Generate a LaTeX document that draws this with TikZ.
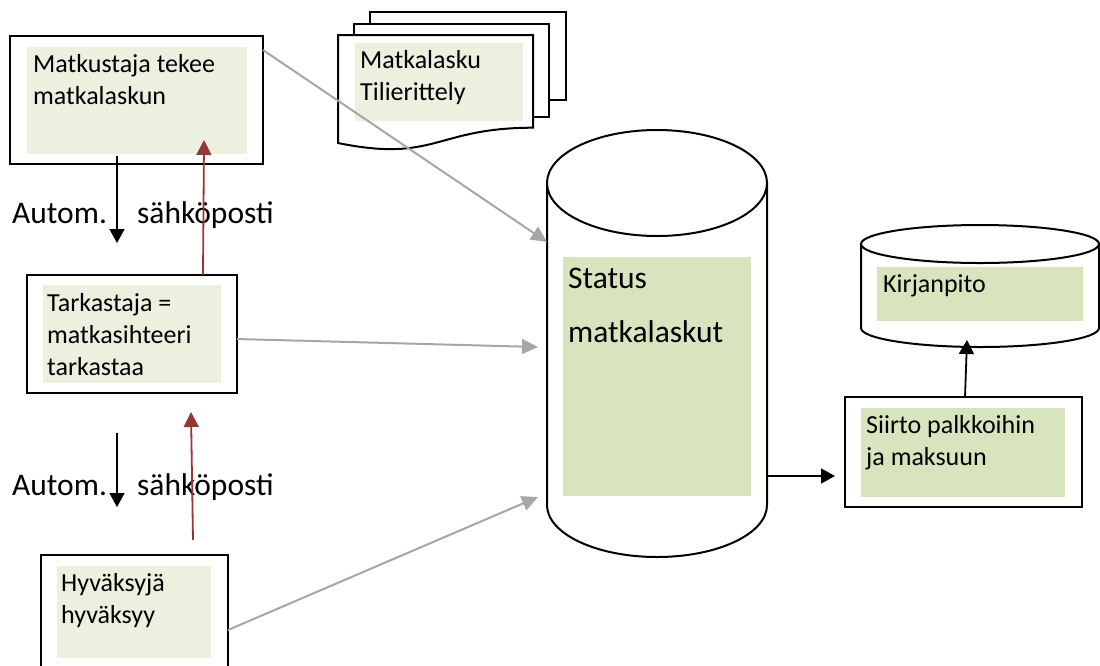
\documentclass[tikz,border=0pt]{standalone}
\usepackage{fontspec}
\setmainfont{Carlito}
\usetikzlibrary{arrows.meta,calc}
\definecolor{paleGreen}{HTML}{EBF1DE}
\definecolor{oliveGreen}{HTML}{D7E4BD}
\definecolor{linkGray}{HTML}{A6A6A6}
\definecolor{backRed}{HTML}{953735}
\tikzset{
  frame/.style={draw=black, line width=2pt, fill=white, inner sep=0pt, outer sep=0pt, anchor=north west},
  panel/.style={fill=#1, inner sep=0pt, outer sep=0pt, anchor=north west},
  outline/.style={draw=black, line width=2pt, fill=white},
  boxtext/.style={anchor=base west, inner sep=0pt, font=\fontsize{26}{32}\selectfont},
  bigtext/.style={anchor=base west, inner sep=0pt, font=\fontsize{31.5}{54}\selectfont},
  mailflow/.style={draw=black, line width=1.8pt, -{Triangle[length=14pt,width=15pt]}},
  returnflow/.style={draw=backRed, line width=1.8pt, -{Triangle[length=15pt,width=15pt]}},
  dataflow/.style={draw=linkGray, line width=2pt, -{Triangle[length=16pt,width=15pt]}},
  plainflow/.style={draw=black, line width=1.8pt, -{Triangle[length=14pt,width=15pt]}},
}
\newcommand{\lines}[1]{\parbox[t]{400pt}{\raggedright #1}}
\begin{document}
\begin{tikzpicture}[x=1pt,y=1pt]
\clip (0,0) rectangle (1100,-665);
\useasboundingbox (0,0) rectangle (1100,-665);

% --- process boxes on the left
\node[frame, minimum width=253pt, minimum height=128pt] (b1) at (10,-36) {};
\node[panel=paleGreen, minimum width=220pt, minimum height=107pt] (g1) at (27,-47) {};
\node[boxtext] (t1) at (33,-72) {\lines{Matkustaja tekee\\matkalaskun}};

\node[frame, minimum width=210pt, minimum height=118pt] (b2) at (27,-275) {};
\node[panel=paleGreen, minimum width=178pt, minimum height=98pt] (g2) at (43,-285) {};
\node[boxtext] (t2) at (47,-311) {\lines{Tarkastaja =\\matkasihteeri\\tarkastaa}};

\node[frame, minimum width=187pt, minimum height=130pt] (b3) at (41,-555) {};
\node[panel=paleGreen, minimum width=154pt, minimum height=92pt] (g3) at (57,-566) {};
\node[boxtext] (t3) at (61,-591) {\lines{Hyväksyjä\\hyväksyy}};

% --- stacked documents
\filldraw[outline] (370,-12) rectangle (566,-100);
\filldraw[outline] (354,-24) rectangle (549,-117);
\filldraw[outline] (338,-35) -- (533,-35) -- (533,-127.7)
  .. controls (435.5,-127.7) and (435.5,-163) .. (338,-143) -- cycle;
\node[panel=paleGreen, minimum width=168pt, minimum height=78pt] (g4) at (355,-43) {};
\node[boxtext] (t4) at (360,-68) {\lines{Matkalasku\\Tilierittely}};

% --- main database cylinder
\filldraw[outline] (547,-183) -- (547,-505)
  arc[start angle=180, end angle=360, x radius=110pt, y radius=52pt] -- (767,-183) -- cycle;
\filldraw[outline] (657,-183) ellipse [x radius=110pt, y radius=53pt];
\node[panel=oliveGreen, minimum width=188pt, minimum height=239pt] (g5) at (563,-257) {};
\node[bigtext] (t5) at (568,-288) {\lines{Status\\matkalaskut}};

% --- transfer box
\node[frame, minimum width=237pt, minimum height=110pt] (b4) at (845,-397) {};
\node[panel=oliveGreen, minimum width=204pt, minimum height=89pt] (g6) at (861,-408) {};
\node[boxtext] (t6) at (866,-433) {\lines{Siirto palkkoihin\\ja maksuun}};

% --- accounting cylinder
\filldraw[outline] (861,-244) -- (861,-328)
  arc[start angle=180, end angle=360, x radius=119pt, y radius=19pt] -- (1099,-244) -- cycle;
\filldraw[outline] (980,-244) ellipse [x radius=119pt, y radius=19pt];
\node[panel=oliveGreen, minimum width=206pt, minimum height=54pt] (g7) at (877,-267) {};
\node[boxtext] (t7) at (883,-292) {Kirjanpito};

% --- mail labels
\node[bigtext] (m1) at (12,-223) {\makebox[125pt][l]{Autom.}sähköposti};
\node[bigtext] (m2) at (12,-495) {\makebox[125pt][l]{Autom.}sähköposti};

% --- connector end points
\coordinate (mailEnd1) at (117,-243);
\coordinate (mailStart2) at (117,-433);
\coordinate (mailEnd2) at (117,-507);
\coordinate (dbIn1) at (547,-242);
\coordinate (dbIn2) at (538,-347);
\coordinate (dbIn3) at (538,-497);
\coordinate (dbOut) at (767,-476);
\coordinate (ledgerIn) at (967,-340);

% --- connectors
\draw[mailflow] ($(b1.south west)+(107,8)$) -- (mailEnd1);
\draw[mailflow] (mailStart2) -- (mailEnd2);
\draw[returnflow] ($(b2.north west)+(176,0)$) -- ($(b1.south west)+(194,24)$);
\draw[returnflow] ($(b3.north west)+(152,15)$) -- ($(b2.south west)+(164,-19)$);
\draw[dataflow] ($(b1.north east)+(0,-14)$) -- (dbIn1);
\draw[dataflow] ($(b2.north east)+(0,-64)$) -- (dbIn2);
\draw[dataflow] ($(b3.north east)+(0,-75)$) -- (dbIn3);
\draw[plainflow] (dbOut) -- ($(b4.south west)+(-10,31)$);
\draw[plainflow] ($(b4.north west)+(120,0)$) -- (ledgerIn);
\end{tikzpicture}
\end{document}
